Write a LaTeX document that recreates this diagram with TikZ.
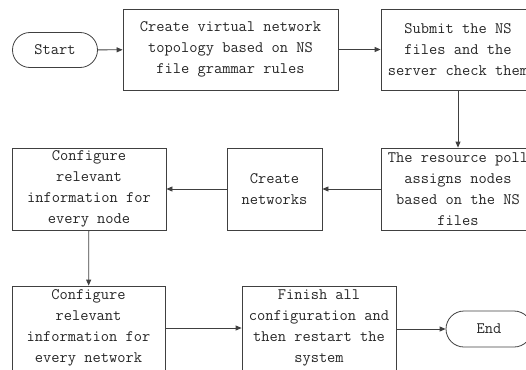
\documentclass[tikz,border=0pt]{standalone}
\usepackage{fontspec}
\usepackage{tikz}
\usetikzlibrary{shapes.misc,arrows.meta}

\begin{document}
\begin{tikzpicture}[x=1pt, y=-1pt,
        every node/.style={font=\ttfamily\fontsize{16}{21}\selectfont, text=black!85, align=center, inner sep=0pt},
        procbox/.style={draw=black!75, line width=0.8pt, rectangle, minimum height=82pt},
        terminal/.style={draw=black!75, line width=0.8pt, rounded rectangle, minimum width=85pt, minimum height=35pt},
        flow/.style={draw=black!75, line width=0.8pt, -{Triangle[length=6pt, width=5pt]}}]
        \useasboundingbox (0,0) rectangle (526,369);
        \clip (0,0) rectangle (526,369);

        \node[terminal] (StartNode) at (55, 50) {Start};
        \node[procbox, minimum width=215pt, minimum height=81pt] (CreateTopology) at (230.5, 49.5) {Create virtual network\\topology based on NS\\file grammar rules};
        \node[procbox, minimum width=154pt, minimum height=81pt] (SubmitFiles) at (458, 49.5) {Submit the NS\\files and the\\server check them};
        \node[procbox, minimum width=154pt] (ResourcePool) at (458, 189) {The resource poll\\assigns nodes\\based on the NS\\files};
        \node[procbox, minimum width=95pt] (CreateNetworks) at (274.5, 189) {Create\\networks};
        \node[procbox, minimum width=154pt] (ConfigureNode) at (89, 189) {Configure\\relevant\\information for\\every node};
        \node[procbox, minimum width=153pt, minimum height=84pt] (ConfigureNetwork) at (88.5, 328) {Configure\\relevant\\information for\\every network};
        \node[procbox, minimum width=154pt, minimum height=84pt] (FinishConfig) at (319, 328) {Finish all\\configuration and\\then restart the\\system};
        \node[terminal, minimum width=86pt, minimum height=36pt] (EndNode) at (489, 329) {End};

        \draw[flow] (StartNode) -- (CreateTopology);
        \draw[flow] (CreateTopology) -- (SubmitFiles);
        \draw[flow] (SubmitFiles) -- (ResourcePool);
        \draw[flow] (ResourcePool) -- (CreateNetworks);
        \draw[flow] (CreateNetworks) -- (ConfigureNode);
        \draw[flow] (ConfigureNode) -- (ConfigureNetwork);
        \draw[flow] (ConfigureNetwork.east |- FinishConfig.west) -- (FinishConfig.west);
        \draw[flow] (FinishConfig.east |- EndNode.west) -- (EndNode.west);
    \end{tikzpicture}
\end{document}
